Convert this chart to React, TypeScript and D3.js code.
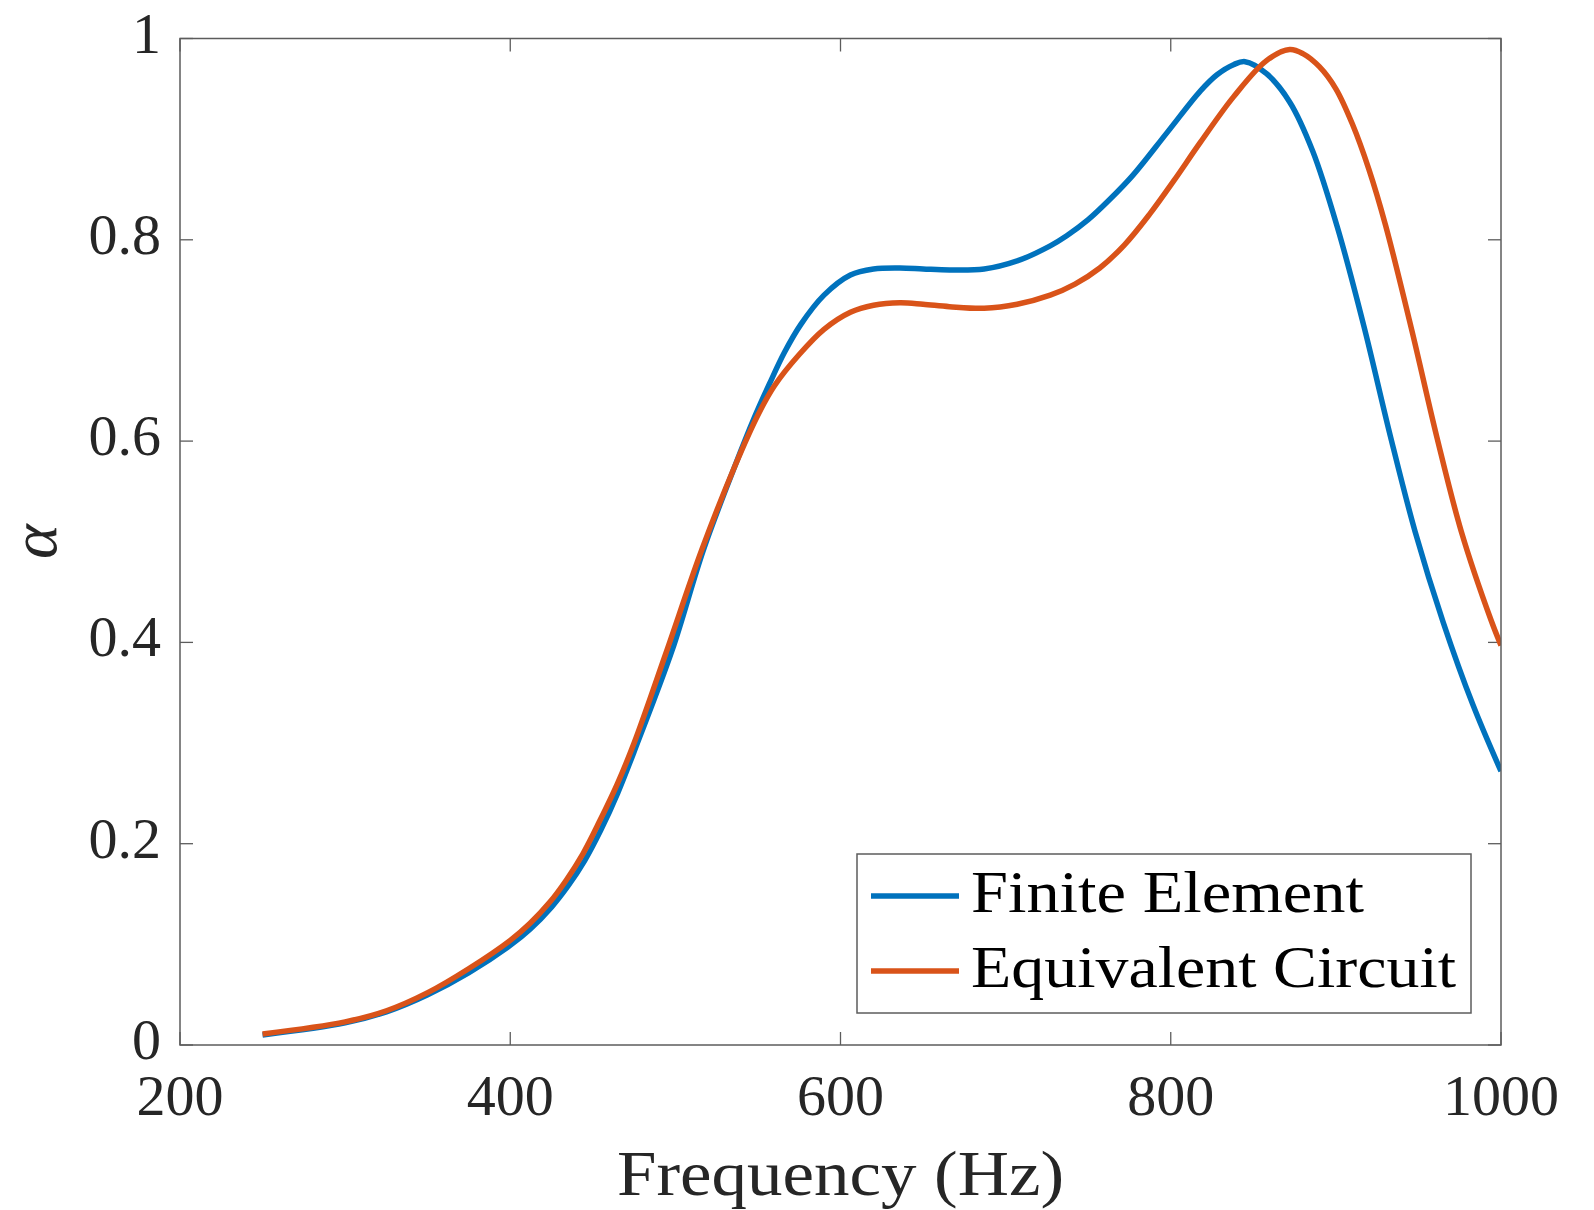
import React from "react";
import * as d3 from "d3";

const freqFE = [250, 300, 325, 350, 375, 400, 412, 425, 435, 445, 455, 465, 477, 498, 517, 536, 548, 557, 566, 576, 590, 606, 620, 636, 650, 666, 687, 707, 727, 737, 750, 763, 777, 798, 818, 828, 838, 845, 858, 872, 886, 901, 917, 933, 948, 965, 983, 1000];
const alphaFE = [0.010, 0.022, 0.033, 0.050, 0.072, 0.099, 0.115, 0.137, 0.158, 0.183, 0.214, 0.250, 0.300, 0.392, 0.492, 0.575, 0.624, 0.657, 0.688, 0.716, 0.745, 0.765, 0.771, 0.772, 0.771, 0.770, 0.771, 0.779, 0.794, 0.804, 0.820, 0.840, 0.864, 0.907, 0.948, 0.964, 0.974, 0.977, 0.965, 0.937, 0.888, 0.812, 0.714, 0.605, 0.510, 0.420, 0.338, 0.272];

const freqEC = [250, 300, 325, 350, 375, 400, 412, 424, 434, 444, 454, 465, 475, 494, 516, 536, 550, 560, 575, 590, 606, 620, 636, 650, 666, 687, 707, 727, 742, 757, 772, 787, 802, 818, 838, 858, 872, 880, 890, 900, 910, 920, 930, 946, 961, 976, 994, 1000];
const alphaEC = [0.011, 0.023, 0.034, 0.052, 0.076, 0.104, 0.121, 0.142, 0.164, 0.190, 0.222, 0.260, 0.300, 0.388, 0.492, 0.575, 0.626, 0.655, 0.686, 0.711, 0.728, 0.735, 0.7375, 0.736, 0.7336, 0.732, 0.736, 0.745, 0.756, 0.772, 0.795, 0.825, 0.859, 0.897, 0.942, 0.978, 0.989, 0.985, 0.972, 0.950, 0.915, 0.870, 0.815, 0.710, 0.605, 0.510, 0.422, 0.397];

const xTicks = [200, 400, 600, 800, 1000];
const yTicks = [0, 0.2, 0.4, 0.6, 0.8, 1];
const yTickLabels = ["0", "0.2", "0.4", "0.6", "0.8", "1"];
const seriesNames = ["Finite Element", "Equivalent Circuit"];
const seriesColors = ["#0072BD", "#D95319"];

const W = 1594;
const H = 1210;
const L = 180, R = 1501, T = 38.5, B = 1045;
const FONT = "'Liberation Serif', 'Times New Roman', serif";
const TXT = "#262626";
const AX = "#5c5c5c";

export default function App() {
  const x = d3.scaleLinear().domain([200, 1000]).range([L, R]);
  const y = d3.scaleLinear().domain([0, 1]).range([B, T]);
  const line = d3
    .line<[number, number]>()
    .x((d) => x(d[0]))
    .y((d) => y(d[1]))
    .curve(d3.curveCatmullRom.alpha(0.5));

  const fe: [number, number][] = freqFE.map((f, i) => [f, alphaFE[i]]);
  const ec: [number, number][] = freqEC.map((f, i) => [f, alphaEC[i]]);
  const tick = 13;

  const legL = 857, legT = 854, legR = 1471, legB = 1013;
  const rows = [896, 971];

  return (
    <svg
      width={W}
      height={H}
      style={{ position: "absolute", left: 0, top: 0, background: "#fff" }}
    >
      <rect x={0} y={0} width={W} height={H} fill="#fff" />
      <defs>
        <clipPath id="plot">
          <rect x={L} y={T} width={R - L} height={B - T} />
        </clipPath>
      </defs>

      {xTicks.map((t) => (
        <g key={"xt" + t}>
          <line x1={x(t)} x2={x(t)} y1={B} y2={B - tick} stroke={AX} strokeWidth={1.3} />
          <line x1={x(t)} x2={x(t)} y1={T} y2={T + tick} stroke={AX} strokeWidth={1.3} />
          <text x={x(t)} y={1115} textAnchor="middle" fontFamily={FONT} fontSize={58} fill={TXT}>
            {t}
          </text>
        </g>
      ))}
      {yTicks.map((t, i) => (
        <g key={"yt" + t}>
          <line x1={L} x2={L + tick} y1={y(t)} y2={y(t)} stroke={AX} strokeWidth={1.3} />
          <line x1={R} x2={R - tick} y1={y(t)} y2={y(t)} stroke={AX} strokeWidth={1.3} />
          <text x={161} y={y(t) + 14} textAnchor="end" fontFamily={FONT} fontSize={58} fill={TXT}>
            {yTickLabels[i]}
          </text>
        </g>
      ))}

      <g clipPath="url(#plot)">
        <path d={line(fe) || ""} fill="none" stroke={seriesColors[0]} strokeWidth={5.5} strokeLinejoin="round" />
        <path d={line(ec) || ""} fill="none" stroke={seriesColors[1]} strokeWidth={5.5} strokeLinejoin="round" />
      </g>

      <rect x={L} y={T} width={R - L} height={B - T} fill="none" stroke={AX} strokeWidth={1.5} />

      <text
        x={(L + R) / 2}
        y={1195}
        textAnchor="middle"
        fontFamily={FONT}
        fontSize={64}
        fill={TXT}
        textLength={447}
        lengthAdjust="spacingAndGlyphs"
      >
        Frequency (Hz)
      </text>
      <text
        transform={`translate(56, ${(T + B) / 2}) rotate(-90)`}
        textAnchor="middle"
        fontFamily={FONT}
        fontSize={66}
        fontStyle="italic"
        fill={TXT}
      >
        α
      </text>

      <rect x={legL} y={legT} width={legR - legL} height={legB - legT} fill="#fff" stroke={AX} strokeWidth={1.5} />
      {seriesNames.map((n, i) => (
        <g key={n}>
          <line x1={871} x2={959} y1={rows[i]} y2={rows[i]} stroke={seriesColors[i]} strokeWidth={5.5} />
          <text
            x={971}
            y={rows[i] + 16}
            fontFamily={FONT}
            fontSize={60}
            fill="#000"
            textLength={i === 0 ? 393 : 485}
            lengthAdjust="spacingAndGlyphs"
          >
            {n}
          </text>
        </g>
      ))}
    </svg>
  );
}
